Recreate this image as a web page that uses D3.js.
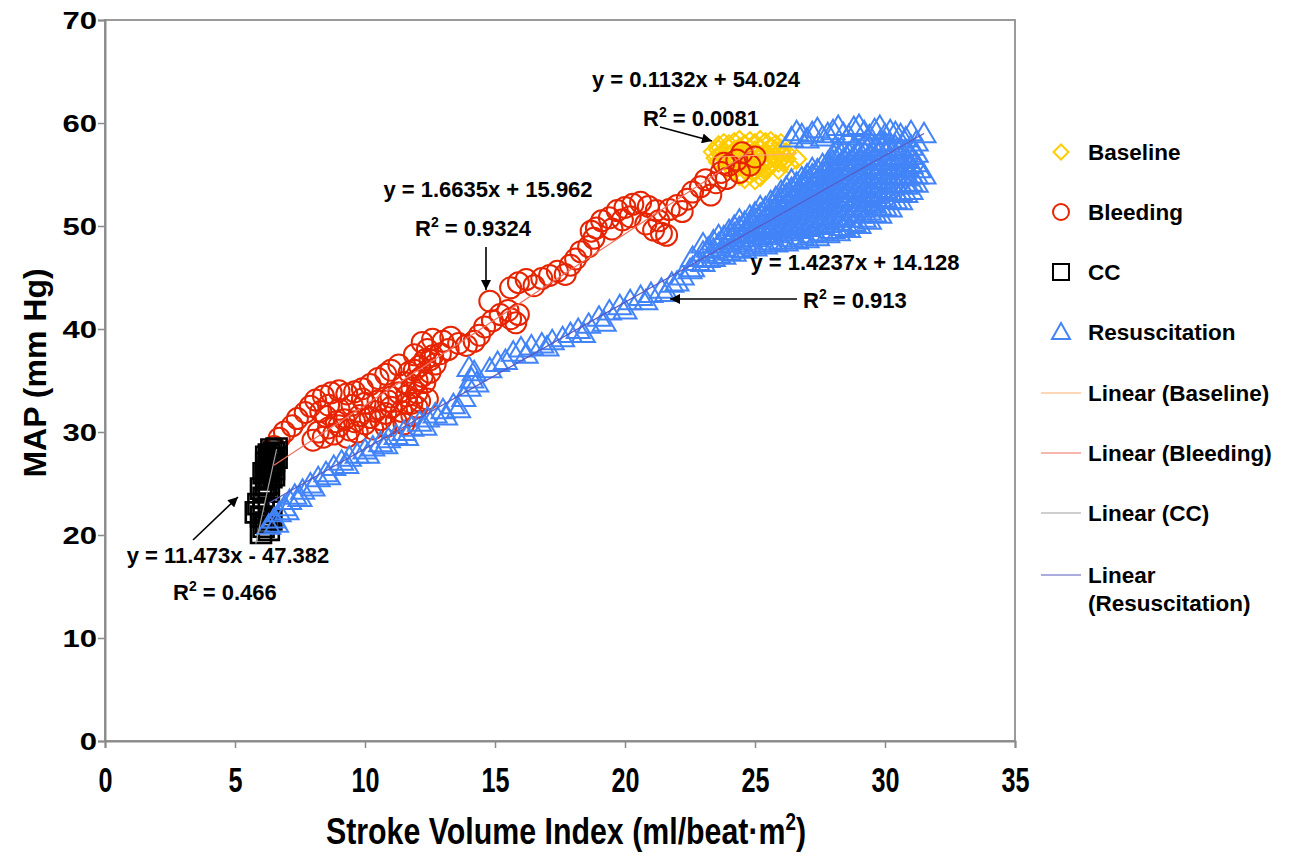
<!DOCTYPE html>
<html>
<head>
<meta charset="utf-8">
<script src="https://cdn.jsdelivr.net/npm/d3@7"></script>
<style>
  html, body { margin: 0; padding: 0; background: #fff; }
  svg { display: block; }
  text { font-family: "Liberation Sans", Arial, sans-serif; font-weight: bold; fill: #000; }
</style>
</head>
<body>
<svg id="chart" width="1293" height="857"></svg>
<script>
// ---- data: [stroke volume index, MAP] ----
const baseline = [
  [23.8,58.0],[24.2,58.1],[24.6,57.9],[25.0,58.0],[25.4,58.1],[25.8,57.9],
  [23.6,57.4],[24.0,57.5],[24.4,57.6],[24.8,57.4],[25.2,57.5],[25.6,57.6],[26.0,57.3],
  [23.7,56.9],[24.1,57.0],[24.5,56.8],[24.9,57.1],[25.3,56.9],[25.7,57.0],[26.1,56.8],
  [23.9,56.4],[24.3,56.5],[24.7,56.3],[25.1,56.6],[25.5,56.4],[25.9,56.2],[26.6,56.5],
  [24.0,55.9],[24.4,56.0],[24.8,55.8],[25.2,56.1],[25.6,55.9],[26.3,56.0],
  [24.2,55.4],[24.6,55.5],[25.0,55.3],[25.4,55.6],
  [24.4,54.9],[24.8,55.0],[25.2,54.8],[23.5,56.6],[23.4,57.2],
  [23.6,57.8],[24.0,57.9],[24.4,58.3],[24.8,58.2],[25.2,58.3],[25.6,58.2],[26.0,58.0],
  [23.8,57.2],[24.2,57.3],[24.6,57.2],[25.0,57.3],[25.4,57.2],[25.8,57.3],[26.2,57.1],
  [23.8,56.7],[24.2,56.7],[24.6,56.6],[25.0,56.8],[25.4,56.7],[25.8,56.6],[26.2,56.5],
  [23.6,56.2],[24.1,56.2],[24.5,56.2],[24.9,56.3],[25.3,56.2],[25.7,56.1],[26.1,56.2],
  [23.9,55.6],[24.3,55.7],[24.7,55.6],[25.1,55.7],[25.5,55.6],[25.9,55.5],
  [24.5,55.0],[24.9,55.3],[25.3,55.2],[24.6,54.6],[25.0,54.5]
];
const bleeding = [
  [6.5,28.6],[6.7,29.4],[6.9,30.0],[7.2,30.6],[7.4,31.3],[7.7,31.9],[7.9,32.5],[8.1,33.1],
  [8.4,33.5],[8.7,33.8],[9.0,34.0],[9.3,33.7],[9.6,33.9],[9.9,34.2],[10.2,34.6],[10.5,35.2],
  [10.8,35.6],[11.0,36.0],[11.3,36.5],
  [8.0,29.2],[8.2,30.0],[8.4,29.5],[8.6,30.4],[8.8,29.8],[9.0,30.6],[9.2,31.2],[9.4,30.2],
  [9.6,31.0],[9.8,31.6],[10.0,30.8],[10.2,31.4],[10.4,32.0],[10.6,31.2],[10.8,31.8],[11.0,32.4],
  [11.2,31.0],[11.4,32.0],[11.6,32.8],[11.8,31.6],[12.0,32.4],[9.0,32.2],[9.5,32.6],[10.0,32.8],
  [10.5,33.0],[11.0,33.4],[8.5,31.5],[8.3,32.0],[9.3,29.5],[10.8,30.5],[11.5,30.8],
  [8.9,31.0],[9.7,30.0],[10.3,30.3],[10.9,33.0],[11.3,33.8],[8.6,32.6],[9.9,33.2],
  [11.6,33.5],[11.8,34.3],[12.0,35.0],[11.7,35.8],[12.1,36.4],[12.3,37.0],[11.9,37.5],[12.4,38.0],
  [12.2,38.7],[12.6,39.0],[12.0,33.8],[12.3,34.8],[12.5,35.8],[12.7,36.6],[12.9,37.6],[12.4,33.2],
  [11.9,36.0],[12.2,35.4],[12.6,37.4],[11.5,34.8],[12.1,33.0],[12.5,37.0],[11.8,32.8],
  [13.0,38.8],[13.3,39.2],[13.6,38.6],[13.9,38.4],[14.2,38.8],[14.4,39.4],[14.6,40.2],[14.9,40.8],
  [15.2,41.4],[14.8,42.7],[15.6,41.0],[15.9,41.4],[15.8,40.6],[15.5,41.8],[13.2,38.0],
  [15.6,44.0],[15.9,44.5],[16.2,44.8],[16.5,44.2],[16.8,44.9],[17.1,45.2],[17.4,45.6],[17.7,45.3],
  [17.9,46.2],[18.1,46.8],[18.3,47.5],[18.6,48.0],[18.8,48.8],[18.9,49.8],[19.1,50.5],[18.7,49.5],
  [19.4,50.8],[19.7,51.5],[20.0,51.8],[20.3,52.1],[20.6,52.3],[20.9,51.9],[21.2,51.5],[19.5,49.7],
  [19.9,50.6],[20.2,50.9],[20.8,50.2],[21.1,49.6],[21.4,49.3],[21.6,49.1],[21.3,50.5],
  [21.7,51.6],[22.0,52.0],[22.2,51.4],[22.4,52.6],[22.6,53.3],[22.9,53.8],[23.1,54.5],[23.3,53.0],
  [23.5,54.2],[23.7,55.2],[23.9,54.6],
  [24.0,55.9],[24.3,56.4],[24.5,57.1],[25.0,56.7],[24.4,55.2],[24.8,55.9],[23.8,56.1]
];
const cc = [
  [6.4,28.3],[6.5,28.0],[6.3,27.8],[6.6,27.5],[6.2,27.0],[6.4,26.8],[6.5,26.4],[6.3,26.2],
  [6.1,26.0],[6.4,25.6],[6.2,25.4],[6.3,25.0],[6.0,24.5],[6.3,24.2],[6.1,23.6],[5.9,23.0],
  [6.3,22.6],[5.8,22.2],[6.0,21.8],[6.2,21.2],[6.1,20.8],[6.3,20.5],[6.0,20.2],[6.4,21.5],
  [6.5,27.2],[6.2,27.6],[6.6,28.4],[6.4,27.4],[6.3,26.6],[6.5,25.8],[6.2,24.8],[6.1,22.4]
];
const resuscitation = [
  // early resuscitation
  [6.3,21.0],[6.5,21.6],[6.7,22.2],[6.9,22.8],[7.1,23.4],[7.3,23.9],[7.6,24.4],[7.9,25.0],
  [8.2,25.6],[8.5,26.1],[8.8,26.7],[9.1,27.2],[9.4,27.6],[9.7,27.9],[10.0,28.3],[10.3,28.6],
  [10.6,29.0],[10.9,29.4],[11.2,29.7],[11.5,30.1],[11.8,30.5],[12.1,31.0],[12.4,31.4],[12.7,31.8],
  [13.0,32.2],[13.4,32.7],[13.8,33.4],[14.0,34.4],[14.1,35.2],[14.2,35.9],[14.0,36.3],[14.8,36.2],
  [15.4,37.0],[15.7,37.8],[16.0,38.2],[16.4,38.4],[16.8,38.6],[17.2,38.9],[17.6,39.2],[17.9,39.6],
  [18.2,40.0],[18.6,40.5],[19.0,41.2],[19.4,41.8],[19.8,42.3],[20.2,42.8],[20.6,43.2],[21.0,43.5],
  [21.4,43.9],[21.8,44.5],[22.2,45.2],[22.5,45.8],[22.8,46.6],
  [6.6,21.2],[7.0,22.4],[7.5,23.7],[8.0,24.7],[8.6,25.8],[9.3,26.9],[10.1,27.9],[10.8,28.8],
  [11.6,29.6],[12.3,30.6],[13.1,31.6],[13.6,32.3],[14.3,34.8],[15.1,36.8],[16.2,37.6],[17.0,38.3],
  [18.4,39.6],[19.2,40.7],[20.0,41.9],[20.8,42.8],[21.6,43.6],[22.0,44.6],
  // late resuscitation
  [22.6,46.0],[22.6,47.0],[23.0,46.5],[23.0,47.5],[23.0,48.3],[23.4,47.0],[23.4,47.8],[23.4,48.6],
  [23.8,47.2],[23.8,48.0],[23.8,49.0],[24.2,47.5],[24.2,48.4],[24.2,49.3],[24.2,50.0],
  [24.6,47.8],[24.6,48.6],[24.6,49.5],[24.6,50.4],[25.0,48.0],[25.0,48.9],[25.0,49.8],[25.0,50.7],[25.0,51.3],
  [25.4,48.2],[25.4,49.1],[25.4,50.0],[25.4,50.9],[25.4,51.8],
  [25.8,48.4],[25.8,49.3],[25.8,50.2],[25.8,51.1],[25.8,52.0],[25.8,52.8],
  [26.2,48.5],[26.2,49.5],[26.2,50.4],[26.2,51.3],[26.2,52.2],[26.2,53.1],[26.2,53.8],
  [26.6,48.7],[26.6,49.7],[26.6,50.6],[26.6,51.5],[26.6,52.4],[26.6,53.3],[26.6,54.2],
  [27.0,48.8],[27.0,49.9],[27.0,50.8],[27.0,51.7],[27.0,52.6],[27.0,53.5],[27.0,54.4],[27.0,55.0],
  [27.4,49.0],[27.4,50.1],[27.4,51.0],[27.4,51.9],[27.4,52.8],[27.4,53.7],[27.4,54.6],[27.4,55.5],
  [27.8,49.3],[27.8,50.3],[27.8,51.2],[27.8,52.1],[27.8,53.0],[27.8,53.9],[27.8,54.8],[27.8,55.7],[27.8,56.2],
  [28.2,49.5],[28.2,50.5],[28.2,51.4],[28.2,52.3],[28.2,53.2],[28.2,54.1],[28.2,55.0],[28.2,55.9],[28.2,56.8],[28.2,57.5],
  [28.6,49.8],[28.6,50.8],[28.6,51.7],[28.6,52.6],[28.6,53.5],[28.6,54.4],[28.6,55.3],[28.6,56.2],[28.6,57.1],
  [29.0,50.2],[29.0,51.2],[29.0,52.0],[29.0,52.9],[29.0,53.8],[29.0,54.7],[29.0,55.6],[29.0,56.5],[29.0,57.4],
  [29.4,50.6],[29.4,51.5],[29.4,52.4],[29.4,53.3],[29.4,54.2],[29.4,55.1],[29.4,56.0],[29.4,56.9],[29.4,57.8],
  [29.8,51.2],[29.8,52.0],[29.8,52.8],[29.8,53.7],[29.8,54.6],[29.8,55.5],[29.8,56.4],[29.8,57.3],[29.8,58.2],
  [30.2,51.8],[30.2,52.6],[30.2,53.4],[30.2,54.2],[30.2,55.0],[30.2,55.9],[30.2,56.8],[30.2,57.7],
  [30.6,52.5],[30.6,53.3],[30.6,54.1],[30.6,54.9],[30.6,55.7],[30.6,56.6],[30.6,57.5],
  [31.0,53.5],[31.0,54.3],[31.0,55.1],[31.0,56.0],[31.0,56.9],[31.0,57.8],
  [23.2,46.9],[23.2,47.9],[23.6,47.3],[23.6,48.3],[23.6,49.1],[24.0,47.6],[24.0,48.7],[24.0,49.6],
  [24.4,47.9],[24.4,48.9],[24.4,49.9],[24.4,50.6],[24.8,48.2],[24.8,49.2],[24.8,50.1],[24.8,51.0],
  [25.2,48.4],[25.2,49.4],[25.2,50.3],[25.2,51.2],[25.2,51.9],
  [25.6,48.6],[25.6,49.6],[25.6,50.6],[25.6,51.5],[25.6,52.4],
  [26.0,48.7],[26.0,49.8],[26.0,50.8],[26.0,51.7],[26.0,52.6],[26.0,53.4],
  [26.4,48.9],[26.4,50.0],[26.4,51.0],[26.4,51.9],[26.4,52.8],[26.4,53.7],[26.4,54.5],
  [26.8,49.1],[26.8,50.2],[26.8,51.2],[26.8,52.1],[26.8,53.0],[26.8,53.9],[26.8,54.7],
  [27.2,49.3],[27.2,50.4],[27.2,51.4],[27.2,52.3],[27.2,53.2],[27.2,54.1],[27.2,55.0],[27.2,55.6],
  [27.6,49.5],[27.6,50.6],[27.6,51.6],[27.6,52.5],[27.6,53.4],[27.6,54.3],[27.6,55.2],[27.6,56.0],
  [28.0,49.7],[28.0,50.8],[28.0,51.8],[28.0,52.7],[28.0,53.6],[28.0,54.5],[28.0,55.4],[28.0,56.3],[28.0,57.0],
  [28.4,50.0],[28.4,51.0],[28.4,52.0],[28.4,52.9],[28.4,53.8],[28.4,54.7],[28.4,55.6],[28.4,56.5],[28.4,57.3],
  [28.8,50.4],[28.8,51.4],[28.8,52.3],[28.8,53.2],[28.8,54.1],[28.8,55.0],[28.8,55.9],[28.8,56.8],[28.8,57.7],
  [29.2,50.8],[29.2,51.8],[29.2,52.7],[29.2,53.6],[29.2,54.5],[29.2,55.4],[29.2,56.3],[29.2,57.2],[29.2,58.0],
  [29.6,51.3],[29.6,52.2],[29.6,53.1],[29.6,54.0],[29.6,54.9],[29.6,55.8],[29.6,56.7],[29.6,57.6],
  [30.0,51.9],[30.0,52.8],[30.0,53.6],[30.0,54.5],[30.0,55.4],[30.0,56.3],[30.0,57.2],[30.0,58.1],
  [30.4,52.6],[30.4,53.4],[30.4,54.2],[30.4,55.1],[30.4,56.0],[30.4,56.9],[30.4,57.8],
  [30.8,53.2],[30.8,54.0],[30.8,54.8],[30.8,55.6],[30.8,56.5],[30.8,57.4],
  [31.2,54.2],[31.2,55.0],[31.2,56.2],[31.2,57.1],
  [26.4,58.6],[26.8,58.9],[27.2,59.1],[27.6,58.7],[28.0,59.3],[28.4,59.0],[28.8,59.6],[29.2,59.2],
  [29.6,59.4],[30.0,58.9],[30.4,59.1],[30.8,58.6],
  [26.6,59.2],[27.0,58.5],[27.4,59.5],[27.8,59.0],[28.2,59.7],[28.6,58.8],[29.0,59.8],[29.4,58.8],
  [29.8,59.7],[30.2,59.3],[30.6,58.9],[31.0,59.2],
  [31.5,59.0],[31.5,55.0],[31.2,58.2],[31.3,55.6]
];

// linear trendlines: MAP = slope * SVI + intercept
const trendSlopes     = [0.1132, 1.6635, 11.473, 1.4237];
const trendIntercepts = [54.024, 15.962, -47.382, 14.128];
const trendR2         = ["0.0081", "0.9324", "0.466", "0.913"];
const trendEquations  = ["y = 0.1132x + 54.024", "y = 1.6635x + 15.962", "y = 11.473x - 47.382", "y = 1.4237x + 14.128"];

const seriesNames  = ["Baseline", "Bleeding", "CC", "Resuscitation"];
const trendNames   = ["Linear (Baseline)", "Linear (Bleeding)", "Linear (CC)", "Linear (Resuscitation)"];
const xTicks = [0, 5, 10, 15, 20, 25, 30, 35];
const yTicks = [0, 10, 20, 30, 40, 50, 60, 70];

// ---- styling ----
const markerColors = ["#FFCC00", "#E62400", "#000000", "#4284F8"];
const trendColors  = ["#FFB070", "#F07060", "#A0A0A0", "#5858C0"];
const markerPaths = [
  "M0,-9.5L9.5,0L0,9.5L-9.5,0Z",                  // diamond
  d3.symbol(d3.symbolCircle, Math.PI * 10.5 * 10.5)(), // circle
  "M-10,-10H10V10H-10Z",                          // square
  "M0,-10.5L11.5,9L-11.5,9Z"                      // triangle
];
const legendPaths = [
  "M0,-7.5L7.5,0L0,7.5L-7.5,0Z",
  d3.symbol(d3.symbolCircle, Math.PI * 64)(),
  "M-8,-8H8V8H-8Z",
  "M0,-9L9,7L-9,7Z"
];

const svg = d3.select("#chart");
const x = d3.scaleLinear().domain([0, 35]).range([105, 1015]);
const y = d3.scaleLinear().domain([0, 70]).range([741, 20]);

// plot frame
svg.append("rect")
  .attr("x", x(0)).attr("y", y(70))
  .attr("width", x(35) - x(0)).attr("height", y(0) - y(70))
  .attr("fill", "none").attr("stroke", "#9a9a9a").attr("stroke-width", 2);

// axes
const xAxis = svg.append("g").attr("transform", `translate(0,${y(0)})`)
  .call(d3.axisBottom(x).tickValues(xTicks).tickSize(7).tickFormat(d3.format("d")));
const yAxis = svg.append("g").attr("transform", `translate(${x(0)},0)`)
  .call(d3.axisLeft(y).tickValues(yTicks).tickSize(7).tickFormat(d3.format("d")));
[xAxis, yAxis].forEach(g => {
  g.select(".domain").attr("stroke", "#8a8a8a").attr("stroke-width", 2);
  g.selectAll(".tick line").attr("stroke", "#8a8a8a").attr("stroke-width", 1.5);
});
xAxis.selectAll(".tick text")
  .attr("font-size", 35).attr("font-weight", "bold")
  .attr("font-family", "Liberation Sans, Arial, sans-serif")
  .attr("y", 0).attr("dy", 0)
  .attr("transform", "translate(0,51) scale(0.72,1)");
yAxis.selectAll(".tick text")
  .attr("font-size", 23).attr("font-weight", "bold")
  .attr("font-family", "Liberation Sans, Arial, sans-serif")
  .attr("x", 0).attr("dy", "0.36em")
  .attr("transform", "translate(-8,0) scale(1.35,1)");

// markers, in series order
const allSeries = [baseline, bleeding, cc, resuscitation];
allSeries.forEach((data, i) => {
  svg.append("g").selectAll("path").data(data).join("path")
    .attr("d", markerPaths[i])
    .attr("transform", d => `translate(${x(d[0])},${y(d[1])})`)
    .attr("fill", "none")
    .attr("stroke", markerColors[i])
    .attr("stroke-width", i === 2 ? 2.6 : 2);
});

// trendlines over each series' x range
allSeries.forEach((data, i) => {
  const [x0, x1] = d3.extent(data, d => d[0]);
  const f = v => trendSlopes[i] * v + trendIntercepts[i];
  svg.append("line")
    .attr("x1", x(x0)).attr("y1", y(f(x0)))
    .attr("x2", x(x1)).attr("y2", y(f(x1)))
    .attr("stroke", trendColors[i]).attr("stroke-width", 1.2);
});

// trendline labels
const defs = svg.append("defs");
defs.append("marker").attr("id", "arrow").attr("viewBox", "0 0 10 10")
  .attr("refX", 10).attr("refY", 5).attr("markerWidth", 12).attr("markerHeight", 10)
  .attr("markerUnits", "userSpaceOnUse").attr("orient", "auto")
  .append("path").attr("d", "M0,0L10,5L0,10Z").attr("fill", "#000");

const eqPos = [[696, 87], [488, 197], [228, 563], [855, 270]];
const r2Pos = [[643, 126], [415, 236], [173, 600], [803, 308]];
eqPos.forEach((p, i) => {
  svg.append("text").attr("x", p[0]).attr("y", p[1]).attr("text-anchor", "middle")
    .attr("font-size", 22).text(trendEquations[i]);
  const t = svg.append("text").attr("x", r2Pos[i][0]).attr("y", r2Pos[i][1]).attr("font-size", 22);
  t.append("tspan").text("R");
  t.append("tspan").attr("font-size", 14).attr("dy", -9).text("2");
  t.append("tspan").attr("dy", 9).text(" = " + trendR2[i]);
});
const arrows = [[660, 127, 712, 141], [486, 247, 486, 290], [797, 299, 670, 299], [193, 540, 238, 497]];
svg.append("g").selectAll("line").data(arrows).join("line")
  .attr("x1", d => d[0]).attr("y1", d => d[1]).attr("x2", d => d[2]).attr("y2", d => d[3])
  .attr("stroke", "#000").attr("stroke-width", 1.6).attr("marker-end", "url(#arrow)");

// axis titles
svg.append("text")
  .attr("transform", "translate(46,373) rotate(-90)")
  .attr("text-anchor", "middle").attr("font-size", 32)
  .text("MAP (mm Hg)");
const xt = svg.append("text")
  .attr("transform", "translate(566,844) scale(0.82,1)")
  .attr("text-anchor", "middle").attr("font-size", 37);
xt.append("tspan").text("Stroke Volume Index (ml/beat\u00B7m");
xt.append("tspan").attr("font-size", 23).attr("dy", -14).text("2");
xt.append("tspan").attr("dy", 14).text(")");

// legend
const legendY = [152, 212, 272, 332];
seriesNames.forEach((name, i) => {
  svg.append("path").attr("d", legendPaths[i])
    .attr("transform", `translate(1061,${legendY[i]})`)
    .attr("fill", "none").attr("stroke", markerColors[i]).attr("stroke-width", 2);
  svg.append("text").attr("x", 1088).attr("y", legendY[i]).attr("dy", "0.36em")
    .attr("font-size", 22.5).text(name);
});
const trendLegendY = [393, 453, 513, 575];
trendNames.forEach((name, i) => {
  svg.append("line").attr("x1", 1041).attr("x2", 1081)
    .attr("y1", trendLegendY[i]).attr("y2", trendLegendY[i])
    .attr("stroke", trendColors[i]).attr("stroke-width", 1.2);
  const t = svg.append("text").attr("x", 1088).attr("y", trendLegendY[i]).attr("dy", "0.36em")
    .attr("font-size", 22.5);
  if (i === 3) {
    t.append("tspan").text("Linear");
    t.append("tspan").attr("x", 1088).attr("dy", 28).text("(Resuscitation)");
  } else {
    t.text(name);
  }
});
</script>
</body>
</html>
